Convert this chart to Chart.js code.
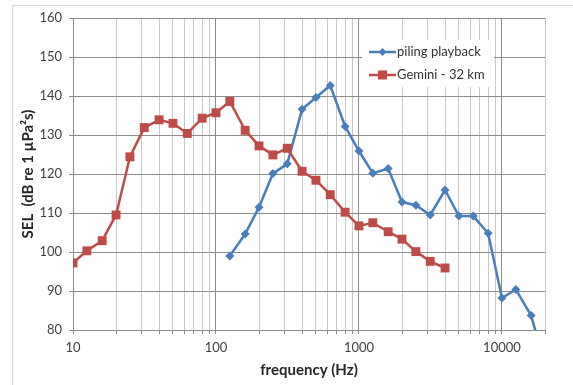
<!DOCTYPE html>
<html>
<head>
<meta charset="utf-8">
<script src="https://cdn.jsdelivr.net/npm/chart.js@4"></script>
<style>
  html, body { margin: 0; padding: 0; background: #fff; }
  #wrap { width: 573px; height: 385px; position: relative; }
</style>
</head>
<body>
<div id="wrap"><canvas id="selChart" width="573" height="385"></canvas></div>
<script>
// 1/3-octave band centre frequencies (Hz)
const pilingFreq = [125, 160, 200, 250, 315, 400, 500, 630, 800, 1000, 1250, 1600, 2000, 2500, 3150, 4000, 5000, 6300, 8000, 10000, 12500, 16000, 20000];
const pilingSel  = [99, 104.6, 111.5, 120.1, 122.6, 136.6, 139.6, 142.7, 132.2, 125.9, 120.2, 121.4, 112.8, 112, 109.5, 115.9, 109.2, 109.2, 104.8, 88.2, 90.4, 83.7, 71];

const geminiFreq = [10, 12.5, 16, 20, 25, 31.5, 40, 50, 63, 80, 100, 125, 160, 200, 250, 315, 400, 500, 630, 800, 1000, 1250, 1600, 2000, 2500, 3150, 4000];
const geminiSel  = [97.2, 100.3, 102.9, 109.5, 124.4, 131.9, 133.9, 133, 130.4, 134.3, 135.7, 138.6, 131.2, 127.2, 124.9, 126.6, 120.7, 118.4, 114.7, 110.2, 106.7, 107.5, 105.2, 103.3, 100.1, 97.6, 95.9];

const xLabels = [10, 100, 1000, 10000];
const seriesNames = ['piling playback', 'Gemini - 32 km'];

const BLUE = '#4a7ebb';
const RED = '#be4b48';
const FONT = 'Lato, "Open Sans", sans-serif';

const pairs = (xs, ys) => xs.map((x, i) => ({ x: x, y: ys[i] }));

// light frame round the whole chart
const framePlugin = {
  id: 'frame',
  beforeDraw(chart) {
    const c = chart.ctx;
    c.save();
    c.fillStyle = '#fff';
    c.fillRect(0, 0, chart.width, chart.height);
    c.strokeStyle = '#d9d9d9';
    c.lineWidth = 1;
    c.strokeRect(12.5, 5.5, chart.width, chart.height);
    c.restore();
  }
};

// legend box inside the plot, as in the original
const boxLegend = {
  id: 'boxLegend',
  afterDatasetsDraw(chart) {
    const c = chart.ctx;
    const x0 = 362, y0 = 40, w = 132, h = 47;
    c.save();
    c.fillStyle = '#fff';
    c.fillRect(x0, y0, w, h);
    chart.data.datasets.forEach((ds, i) => {
      const y = y0 + 12 + i * 23;
      c.strokeStyle = ds.borderColor;
      c.lineWidth = 2.5;
      c.beginPath();
      c.moveTo(x0 + 7, y);
      c.lineTo(x0 + 34, y);
      c.stroke();
      c.fillStyle = ds.backgroundColor;
      if (ds.pointStyle === 'rect') {
        c.fillRect(x0 + 20.5 - 4.5, y - 4.5, 9, 9);
      } else {
        c.beginPath();
        c.moveTo(x0 + 20.5, y - 4);
        c.lineTo(x0 + 24.5, y);
        c.lineTo(x0 + 20.5, y + 4);
        c.lineTo(x0 + 16.5, y);
        c.closePath();
        c.fill();
      }
      c.fillStyle = '#333';
      c.font = '13px ' + FONT;
      c.textBaseline = 'middle';
      c.textAlign = 'left';
      c.fillText(ds.label, x0 + 35, y);
    });
    c.restore();
  }
};

new Chart(document.getElementById('selChart'), {
  type: 'line',
  data: {
    datasets: [
      {
        label: seriesNames[0],
        data: pairs(pilingFreq, pilingSel),
        borderColor: BLUE,
        backgroundColor: BLUE,
        borderWidth: 2.5,
        pointStyle: 'rectRot',
        pointRadius: 4.5,
        pointBorderWidth: 0,
        tension: 0,
        order: 2
      },
      {
        label: seriesNames[1],
        data: pairs(geminiFreq, geminiSel),
        borderColor: RED,
        backgroundColor: RED,
        borderWidth: 2.5,
        pointStyle: 'rect',
        pointRadius: 6.3,
        pointBorderWidth: 0,
        tension: 0,
        order: 1
      }
    ]
  },
  options: {
    responsive: false,
    animation: false,
    layout: { padding: { left: 0, top: 18, right: 28, bottom: 0 } },
    plugins: {
      legend: { display: false },
      tooltip: { enabled: false }
    },
    scales: {
      x: {
        type: 'logarithmic',
        min: 10,
        max: 20000,
        afterBuildTicks(scale) {
          const ticks = [];
          xLabels.forEach(d => {
            for (let m = 1; m <= 9; m++) {
              if (d * m <= 20000) ticks.push({ value: d * m });
            }
          });
          scale.ticks = ticks;
        },
        afterFit(scale) { scale.height = 55; },
        grid: {
          color: ctx => {
            const v = ctx.tick && ctx.tick.value;
            return xLabels.includes(v) ? '#8c8c8c' : '#c8c8c8';
          },
          lineWidth: 1,
          tickLength: 4,
          tickColor: '#8c8c8c'
        },
        border: { color: '#8c8c8c' },
        ticks: {
          autoSkip: false,
          maxRotation: 0,
          padding: 6,
          color: '#404040',
          font: { family: FONT, size: 13 },
          callback: v => (xLabels.includes(v) ? String(v) : '')
        },
        title: {
          display: true,
          text: 'frequency (Hz)',
          color: '#262626',
          font: { family: FONT, size: 15, weight: 'bold' },
          padding: { top: 0, bottom: 6 }
        }
      },
      y: {
        min: 80,
        max: 160,
        afterFit(scale) { scale.width = 73; },
        grid: {
          color: '#8c8c8c',
          lineWidth: 1,
          tickLength: 4,
          tickColor: '#8c8c8c'
        },
        border: { color: '#8c8c8c' },
        ticks: {
          stepSize: 10,
          padding: 7,
          color: '#404040',
          font: { family: FONT, size: 13 }
        },
        title: {
          display: true,
          text: 'SEL  (dB re 1 µPa²s)',
          color: '#262626',
          font: { family: FONT, size: 15, weight: 'bold' },
          padding: { top: 19, bottom: 0 }
        }
      }
    }
  },
  plugins: [framePlugin, boxLegend]
});
</script>
</body>
</html>
